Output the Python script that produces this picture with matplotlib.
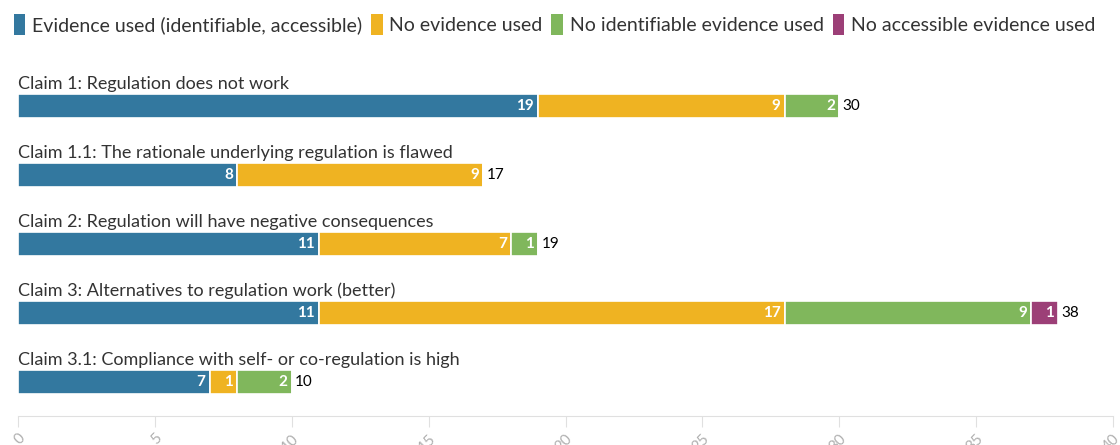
import matplotlib
matplotlib.use('Agg')
import matplotlib.pyplot as plt
from matplotlib.patches import Patch

claims = [
    'Claim 1: Regulation does not work',
    'Claim 1.1: The rationale underlying regulation is flawed',
    'Claim 2: Regulation will have negative consequences',
    'Claim 3: Alternatives to regulation work (better)',
    'Claim 3.1: Compliance with self- or co-regulation is high',
]
series_names = [
    'Evidence used (identifiable, accessible)',
    'No evidence used',
    'No identifiable evidence used',
    'No accessible evidence used',
]
evidence_used = [19, 8, 11, 11, 7]
no_evidence = [9, 9, 7, 17, 1]
no_identifiable = [2, 0, 1, 9, 2]
no_accessible = [0, 0, 0, 1, 0]
x_ticks = [0, 5, 10, 15, 20, 25, 30, 35, 40]

colors = ['#33789f', '#efb322', '#80b75c', '#9c3f77']
plt.rcParams['font.family'] = ['Lato', 'DejaVu Sans']


def main():
    fig = plt.figure(figsize=(11.2, 4.45), dpi=100)
    ax = fig.add_axes([18 / 1120, 29 / 445, 1095 / 1120, 356 / 445])

    series = [evidence_used, no_evidence, no_identifiable, no_accessible]
    rows = list(range(len(claims)))
    left = [0] * len(claims)
    for vals, color in zip(series, colors):
        ax.barh(rows, vals, left=left, height=0.34, color=color,
                edgecolor='white', linewidth=1.2)
        for r, v, l in zip(rows, vals, left):
            if v > 0:
                ax.text(l + v - 0.15, r, str(v), ha='right', va='center',
                        color='white', fontsize=11, fontweight='bold')
        left = [l + v for l, v in zip(left, vals)]

    for r, total, name in zip(rows, left, claims):
        ax.text(total + 0.12, r, str(total), ha='left', va='center',
                color='black', fontsize=11)
        ax.text(0, r - 0.2, name, ha='left', va='bottom',
                color='#333333', fontsize=13)

    ax.set_xlim(0, 40)
    ax.set_ylim(4.49, -0.667)
    ax.set_xticks(x_ticks)
    ax.set_xticklabels([str(t) for t in x_ticks], rotation=45,
                       ha='right', va='top', rotation_mode='anchor',
                       color='#b0b0b0', fontsize=11)
    ax.tick_params(axis='x', length=8, color='#e0e0e0', pad=3)
    ax.set_yticks([])
    for side in ['top', 'right', 'left']:
        ax.spines[side].set_visible(False)
    ax.spines['bottom'].set_color('#e0e0e0')

    handles = [Patch(facecolor=c, edgecolor='none') for c in colors]
    fig.legend(handles, series_names, loc='upper left', ncol=4,
               bbox_to_anchor=(0.0, 1.0), frameon=False, fontsize=14,
               handlelength=0.6, handleheight=1.3, handletextpad=0.35,
               columnspacing=0.45, labelcolor='#333333', borderaxespad=0.3)

    fig.savefig('out.png', dpi=100)


if __name__ == '__main__':
    main()
